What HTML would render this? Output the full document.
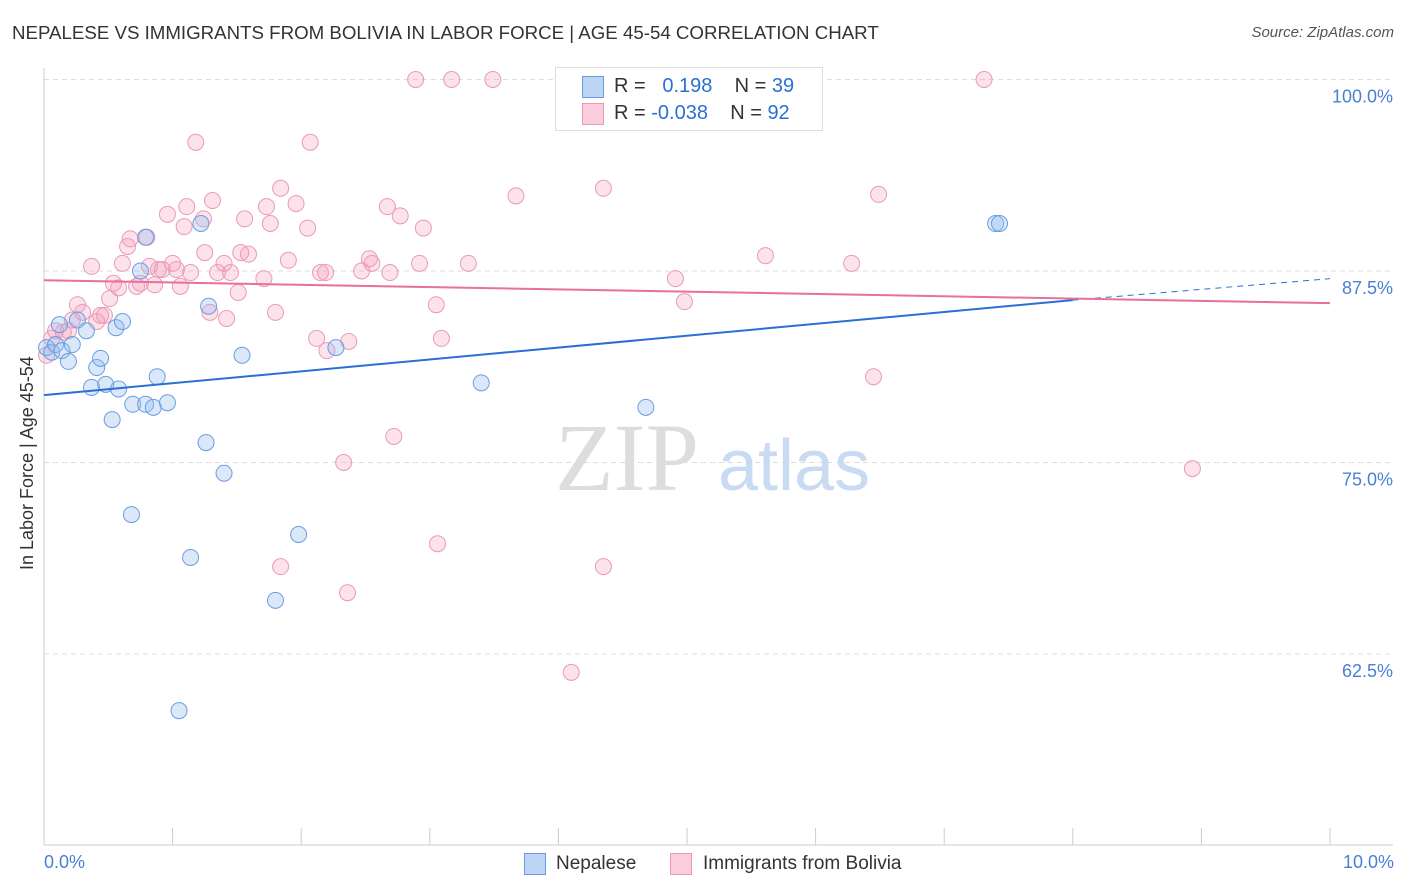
<!DOCTYPE html>
<html><head><meta charset="utf-8"><style>
body{margin:0;background:#fff;font-family:"Liberation Sans",sans-serif}
#wrap{position:relative;width:1406px;height:892px;overflow:hidden}
.t{position:absolute;white-space:nowrap}
</style></head><body><div id="wrap">
<div class="t" style="left:12px;top:22px;font-size:18.7px;color:#333">NEPALESE VS IMMIGRANTS FROM BOLIVIA IN LABOR FORCE | AGE 45-54 CORRELATION CHART</div>
<div class="t" style="right:12px;top:24px;font-size:15px;color:#555;font-style:italic">Source: ZipAtlas.com</div>
<svg id="svg" width="1406" height="892" style="position:absolute;left:0;top:0"></svg>
</div>
<script>
const blueX=[0.02,0.06,0.09,0.12,0.14,0.19,0.22,0.26,0.33,0.37,0.41,0.44,0.48,0.53,0.56,0.58,0.61,0.68,0.69,0.75,0.79,0.79,0.85,0.88,0.96,1.05,1.14,1.22,1.26,1.28,1.40,1.54,1.80,1.98,2.27,3.40,4.68,7.40,7.43];
const blueY=[82.5,82.2,82.7,84.0,82.3,81.6,82.7,84.3,83.6,79.9,81.2,81.8,80.1,77.8,83.8,79.8,84.2,71.6,78.8,87.5,89.7,78.8,78.6,80.6,78.9,58.8,68.8,90.6,76.3,85.2,74.3,82.0,66.0,70.3,82.5,80.2,78.6,90.6,90.6];
const pinkX=[0.02,0.06,0.09,0.15,0.19,0.22,0.26,0.30,0.37,0.41,0.44,0.47,0.51,0.54,0.58,0.61,0.65,0.67,0.72,0.75,0.80,0.82,0.86,0.89,0.92,0.96,1.00,1.03,1.06,1.09,1.11,1.14,1.18,1.24,1.25,1.29,1.31,1.35,1.40,1.42,1.45,1.51,1.53,1.56,1.59,1.71,1.73,1.76,1.80,1.84,1.84,1.90,1.96,2.05,2.07,2.12,2.15,2.19,2.20,2.33,2.36,2.37,2.47,2.53,2.55,2.67,2.69,2.72,2.77,2.89,2.92,2.95,3.05,3.06,3.09,3.17,3.30,3.49,3.67,4.10,4.35,4.35,4.91,4.98,5.61,6.28,6.45,6.49,7.31,8.93];
const pinkY=[82.0,83.1,83.6,83.5,83.6,84.3,85.3,84.8,87.8,84.2,84.6,84.6,85.7,86.7,86.4,88.0,89.1,89.6,86.5,86.7,89.7,87.8,86.6,87.6,87.6,91.2,88.0,87.6,86.5,90.4,91.7,87.4,95.9,90.9,88.7,84.8,92.1,87.4,88.0,84.4,87.4,86.1,88.7,90.9,88.6,87.0,91.7,90.6,84.8,92.9,68.2,88.2,91.9,90.3,95.9,83.1,87.4,87.4,82.3,75.0,66.5,82.9,87.5,88.3,88.0,91.7,87.4,76.7,91.1,100,88.0,90.3,85.3,69.7,83.1,100,88.0,100,92.4,61.3,68.2,92.9,87.0,85.5,88.5,88.0,80.6,92.5,100,74.6];
const yTicks=[100,87.5,75,62.5];
const yTickLabels=["100.0%","87.5%","75.0%","62.5%"];
const blueTrend=[79.4,85.6,87.0];
const pinkTrend=[86.9,85.4];
const NS="http://www.w3.org/2000/svg",svg=document.getElementById('svg');
const X=v=>44+v/10*1286, Y=v=>79.5+(100-v)/12.5*191.5;
function mk(t,a){const e=document.createElementNS(NS,t);for(const k in a)e.setAttribute(k,a[k]);svg.appendChild(e);return e;}
yTicks.forEach((v,i)=>{
 const g=mk('line',{x1:44,x2:1393,y1:Y(v),y2:Y(v),stroke:'#ddd','stroke-dasharray':'5,4'});
 
 
 const t=mk('text',{x:1393,y:Y(v)+23,'text-anchor':'end','font-size':18,fill:'#4a7fd6','font-family':'Liberation Sans'});
 t.textContent=yTickLabels[i];
 
 
});
const ax=mk('line',{x1:44,x2:1393,y1:845,y2:845,stroke:'#ccc'});


const ay=mk('line',{x1:44,x2:44,y1:68,y2:845,stroke:'#ccc'});


for(let i=0;i<=10;i++){const tk=mk('line',{x1:X(i),x2:X(i),y1:828,y2:845,stroke:'#ccc'});
 
 }
const wm=mk('text',{x:555,y:490,'font-size':96,fill:'#ddd','font-family':'Liberation Serif'});wm.textContent='ZIP';


const wm2=mk('text',{x:718,y:490,'font-size':72,fill:'#c9dbf2','font-family':'Liberation Sans'});wm2.textContent='atlas';


pinkX.forEach((x,i)=>{const c=mk('circle',{cx:X(x),cy:Y(pinkY[i]),r:8,fill:'rgba(244,160,190,0.3)',stroke:'#ea9ab7','stroke-width':1});
 
 });
blueX.forEach((x,i)=>{const c=mk('circle',{cx:X(x),cy:Y(blueY[i]),r:8,fill:'rgba(150,190,240,0.35)',stroke:'#6a9de0','stroke-width':1});
 
 });
const bl=mk('line',{x1:X(0),y1:Y(blueTrend[0]),x2:X(8),y2:Y(blueTrend[1]),stroke:'#2a6fd6','stroke-width':2});


const bd=mk('line',{x1:X(8),y1:Y(blueTrend[1]),x2:X(10),y2:Y(blueTrend[2]),stroke:'#2a6fd6','stroke-width':1,'stroke-dasharray':'6,5'});


const pl=mk('line',{x1:X(0),y1:Y(pinkTrend[0]),x2:X(10),y2:Y(pinkTrend[1]),stroke:'#e8709a','stroke-width':2});


</script>
<div class="t" style="left:17px;top:570px;transform:rotate(-90deg);transform-origin:0 0;font-size:18px;color:#333">In Labor Force | Age 45-54</div>
<div class="t" style="left:44px;top:852px;font-size:18px;color:#4a7fd6">0.0%</div>
<div class="t" style="right:12px;top:852px;font-size:18px;color:#4a7fd6">10.0%</div>
<div style="position:absolute;left:555px;top:67px;width:266px;height:62px;border:1px solid #ddd;background:#fff;font-size:20px">
<div class="t" style="left:26px;top:8px;width:20px;height:20px;background:#bcd5f5;border:1px solid #6a9de0"></div>
<div class="t" style="left:58px;top:7px;color:#333">R = &nbsp;&nbsp;<span style="color:#2a6fd6">0.198</span>&nbsp;&nbsp;&nbsp;&nbsp;N = <span style="color:#2a6fd6">39</span></div>
<div class="t" style="left:26px;top:35px;width:20px;height:20px;background:#f9cddc;border:1px solid #ea9ab7"></div>
<div class="t" style="left:58px;top:34px;color:#333">R = <span style="color:#2a6fd6">-0.038</span>&nbsp;&nbsp;&nbsp;&nbsp;N = <span style="color:#2a6fd6">92</span></div>
</div>
<div class="t" style="left:524px;top:853px;width:20px;height:20px;background:#bcd5f5;border:1px solid #6a9de0"></div>
<div class="t" style="left:556px;top:853px;font-size:19px;color:#333">Nepalese</div>
<div class="t" style="left:670px;top:853px;width:20px;height:20px;background:#f9cddc;border:1px solid #ea9ab7"></div>
<div class="t" style="left:703px;top:853px;font-size:19px;color:#333">Immigrants from Bolivia</div>
</body></html>
